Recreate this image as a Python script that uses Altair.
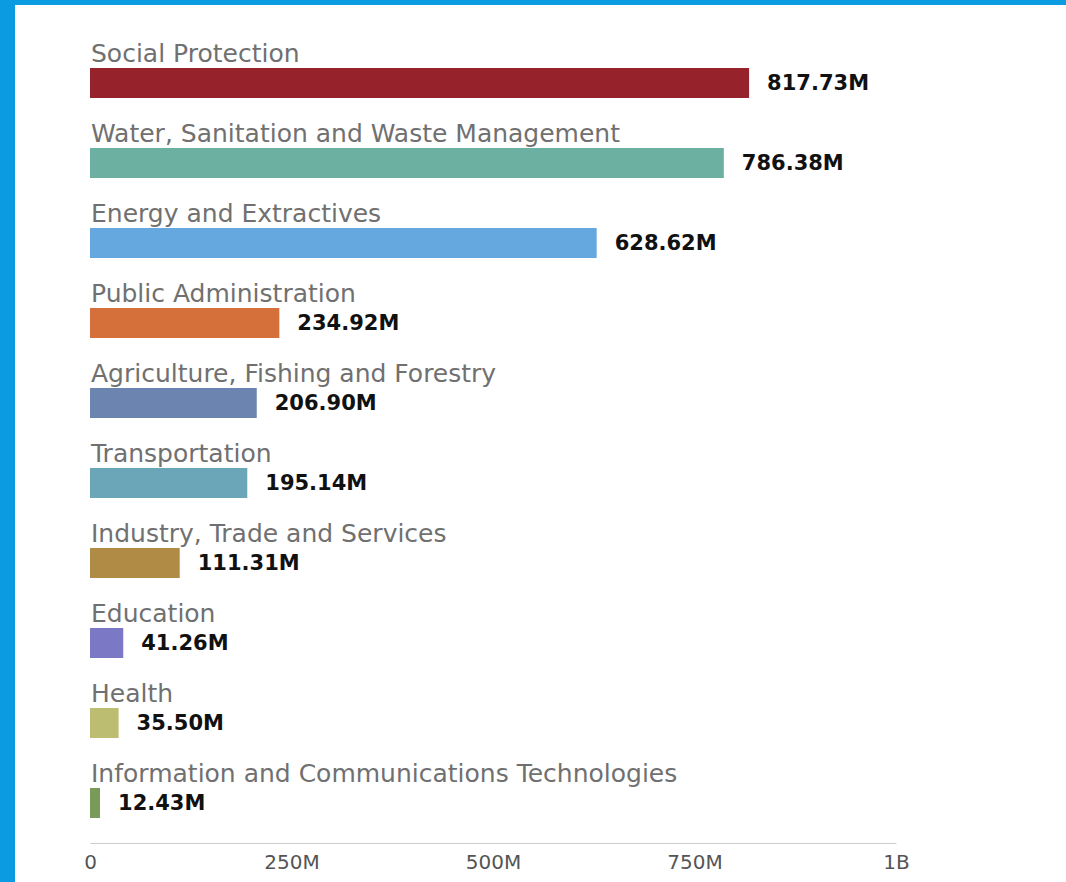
import altair as alt
import pandas as pd

categories = [
    "Social Protection",
    "Water, Sanitation and Waste Management",
    "Energy and Extractives",
    "Public Administration",
    "Agriculture, Fishing and Forestry",
    "Transportation",
    "Industry, Trade and Services",
    "Education",
    "Health",
    "Information and Communications Technologies",
]
values = [817.73e6, 786.38e6, 628.62e6, 234.92e6, 206.90e6, 195.14e6, 111.31e6, 41.26e6, 35.50e6, 12.43e6]
labels = ["817.73M", "786.38M", "628.62M", "234.92M", "206.90M", "195.14M", "111.31M", "41.26M", "35.50M", "12.43M"]
colors = ["#96232B", "#6BB0A0", "#65A8E0", "#D6703A", "#6C84B0", "#6AA5B8", "#B08B45", "#7B79C5", "#BDBD72", "#7A9A5A"]
tick_values = [0, 250e6, 500e6, 750e6, 1e9]

df = pd.DataFrame({"category": categories, "value": values, "label": labels, "color": colors})

W, H = 806, 800
PAD_L, PAD_T = 90, 43
FRAME = "#0A9BE1"

y_enc = alt.Y("category:N", sort=categories, axis=None,
              scale=alt.Scale(paddingInner=0.625, paddingOuter=0.3125))

bars = alt.Chart(df).mark_bar().encode(
    x=alt.X("value:Q",
            scale=alt.Scale(domain=[0, 1e9], nice=False),
            axis=alt.Axis(values=tick_values, title=None, grid=False, ticks=False,
                          domainColor="#cccccc", domainWidth=1,
                          labelFont="DejaVu Sans", labelFontSize=20, labelColor="#555555",
                          labelPadding=9, labelFlush=False,
                          labelExpr="datum.value == 0 ? '0' : (datum.value >= 1e9 ? format(datum.value/1e9, 'd') + 'B' : format(datum.value/1e6, 'd') + 'M')")),
    y=y_enc,
    color=alt.Color("color:N", scale=None),
)

cat_text = alt.Chart(df).mark_text(
    align="left", baseline="middle", dx=1, dy=-29,
    font="DejaVu Sans", fontSize=25, color="#707070",
).encode(x=alt.datum(0), y=y_enc, text="category:N")

val_text = alt.Chart(df).mark_text(
    align="left", baseline="middle", dx=18, dy=1,
    font="DejaVu Sans", fontSize=21, fontWeight="bold", color="#111111",
).encode(x="value:Q", y=y_enc, text="label:N")

frame_df = pd.DataFrame({"k": [0]})
left_strip = alt.Chart(frame_df).mark_rect(color=FRAME).encode(
    x=alt.value(-PAD_L), x2=alt.value(-PAD_L + 15),
    y=alt.value(-PAD_T), y2=alt.value(882 - PAD_T),
)
top_strip = alt.Chart(frame_df).mark_rect(color=FRAME).encode(
    x=alt.value(-PAD_L), x2=alt.value(1066 - PAD_L),
    y=alt.value(-PAD_T), y2=alt.value(-PAD_T + 5),
)

chart = alt.layer(bars, cat_text, val_text, left_strip, top_strip).properties(
    width=W, height=H,
    autosize=alt.AutoSizeParams(type="none"),
    padding={"left": PAD_L, "top": PAD_T, "right": 1066 - PAD_L - W, "bottom": 882 - PAD_T - H},
    background="white",
).configure_view(stroke=None)

chart.save("out.html", embed_options={"renderer": "svg", "actions": False})
